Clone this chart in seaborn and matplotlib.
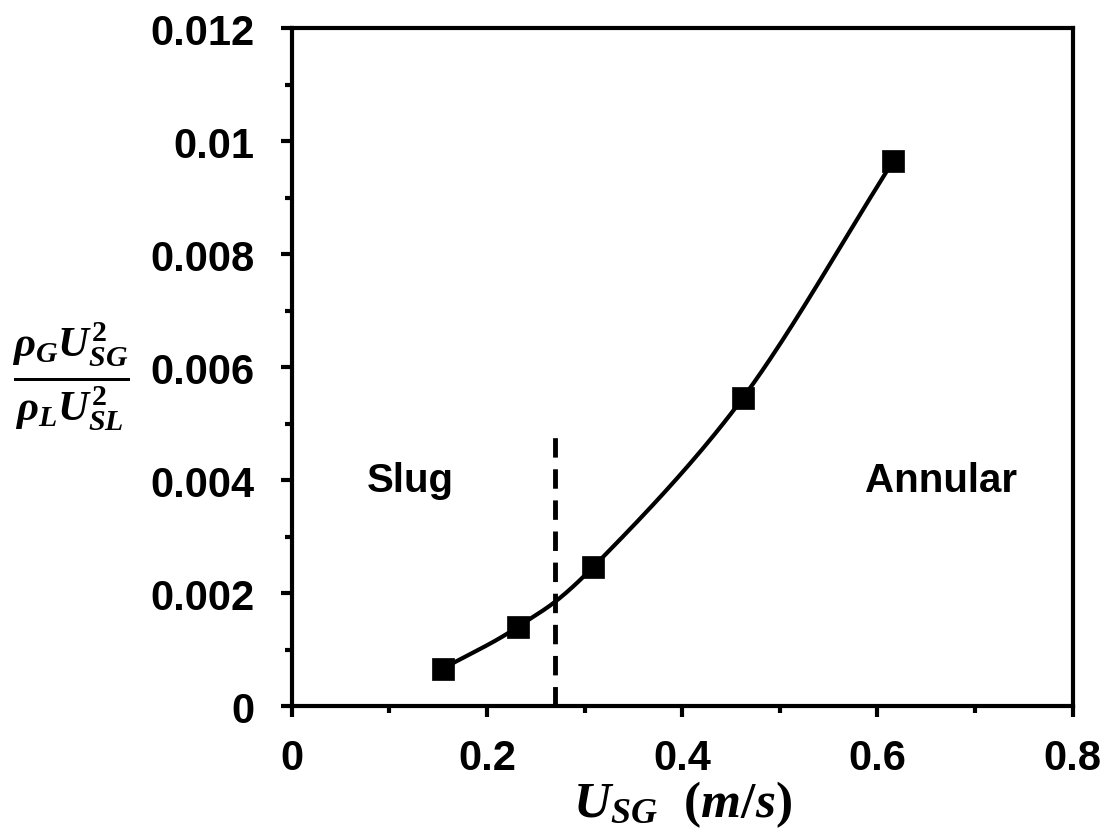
import numpy as np
import pandas as pd
import matplotlib
matplotlib.use("Agg")
import matplotlib.pyplot as plt
import seaborn as sns
from matplotlib.ticker import MultipleLocator, FuncFormatter

# Data
usg = [0.1548, 0.2318, 0.3084, 0.4618, 0.6162]
ratio = [0.00067, 0.00141, 0.00246, 0.00545, 0.00965]
boundary_x = 0.27
boundary_top = 0.00486
regime_labels = ["Slug", "Annular"]
regime_pos = [(0.1213, 0.0040), (0.665, 0.0040)]

sns.set_theme(style="white")
plt.rcParams['font.family'] = ['Liberation Sans', 'DejaVu Sans']
plt.rcParams['mathtext.fontset'] = 'custom'
plt.rcParams['mathtext.it'] = 'Liberation Serif:italic:bold'
plt.rcParams['mathtext.rm'] = 'Liberation Serif:bold'
plt.rcParams['mathtext.bf'] = 'Liberation Serif:bold'
for k in ['text.color', 'axes.labelcolor', 'xtick.color', 'ytick.color']:
    plt.rcParams[k] = 'black'


def catmull_rom(x, y, n=40):
    x = np.asarray(x, float)
    y = np.asarray(y, float)
    px = np.concatenate([[2 * x[0] - x[1]], x, [2 * x[-1] - x[-2]]])
    py = np.concatenate([[2 * y[0] - y[1]], y, [2 * y[-1] - y[-2]]])
    xs, ys = [], []
    t = np.linspace(0, 1, n)
    for i in range(1, len(px) - 2):
        p0, p1, p2, p3 = [np.array([px[j], py[j]]) for j in range(i - 1, i + 3)]
        c1 = p1 + (p2 - p0) / 6.0
        c2 = p2 - (p3 - p1) / 6.0
        b = ((1 - t) ** 3)[:, None] * p1 + (3 * (1 - t) ** 2 * t)[:, None] * c1 \
            + (3 * (1 - t) * t ** 2)[:, None] * c2 + (t ** 3)[:, None] * p2
        xs.extend(b[:, 0])
        ys.extend(b[:, 1])
    return np.array(xs), np.array(ys)


fig = plt.figure(figsize=(11.05, 8.29), dpi=100)
ax = fig.add_axes([0.264, 0.1466, 0.7068, 0.8184])

sx, sy = catmull_rom(usg, ratio)
curve = pd.DataFrame({"x": sx, "y": sy})
sns.lineplot(data=curve, x="x", y="y", ax=ax, color="black", linewidth=3.0,
             sort=False, estimator=None)
pts = pd.DataFrame({"x": usg, "y": ratio})
sns.scatterplot(data=pts, x="x", y="y", ax=ax, marker="s", s=240,
                color="black", edgecolor="black", linewidth=0.5, zorder=5)

ax.plot([boundary_x, boundary_x], [0, boundary_top], color="black",
        linewidth=3.5, dashes=(4, 2.4))

for lab, (tx, ty) in zip(regime_labels, regime_pos):
    ax.text(tx, ty, lab, fontsize=29, fontweight="bold", ha="center",
            va="center", color="black")

ax.set_xlim(0, 0.8)
ax.set_ylim(0, 0.012)
ax.xaxis.set_major_locator(MultipleLocator(0.2))
ax.xaxis.set_minor_locator(MultipleLocator(0.1))
ax.yaxis.set_major_locator(MultipleLocator(0.002))
ax.yaxis.set_minor_locator(MultipleLocator(0.001))
ax.xaxis.set_major_formatter(FuncFormatter(lambda v, p: "0" if abs(v) < 1e-12 else f"{v:g}"))
ax.yaxis.set_major_formatter(FuncFormatter(lambda v, p: "0" if abs(v) < 1e-12 else f"{v:g}"))

for s in ax.spines.values():
    s.set_visible(True)
    s.set_color("black")
    s.set_linewidth(3.0)

ax.tick_params(axis="both", which="major", direction="out", length=8, width=3,
               color="black", labelcolor="black", labelsize=30,
               bottom=True, left=True, top=False, right=False)
ax.tick_params(axis="both", which="minor", direction="out", length=5, width=3,
               color="black", bottom=True, left=True, top=False, right=False)
ax.tick_params(axis="x", which="major", pad=15)
ax.tick_params(axis="y", which="major", pad=19)
for lbl in ax.get_xticklabels() + ax.get_yticklabels():
    lbl.set_fontweight("bold")

ax.set_xlabel(r"$U_{SG}\ \ (m/s)$", fontsize=37, labelpad=0, color="black")
ax.set_ylabel("")
fig.text(0.064, 0.545,
         r"$\frac{\rho_G U_{SG}^2}{\rho_L U_{SL}^2}$",
         fontsize=44, ha="center", va="center", color="black")

fig.savefig("out.png", dpi=100)
